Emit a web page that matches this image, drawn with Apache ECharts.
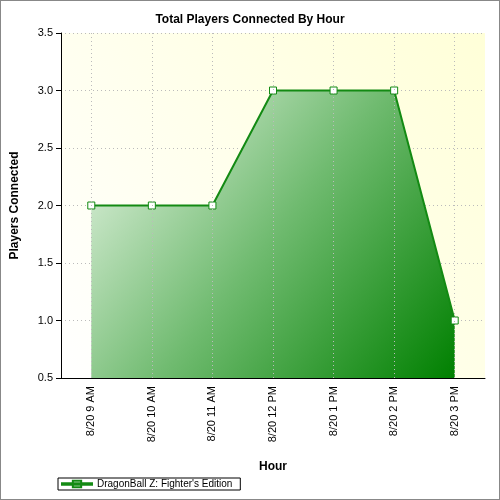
<!DOCTYPE html><html><head><meta charset="utf-8"><script src="https://cdn.jsdelivr.net/npm/echarts@6/dist/echarts.min.js"></script>
<style>body{margin:0}#c{width:498px;height:498px;border:1px solid #888}</style></head><body><div id="c"></div><script>
const categories=['8/20 9 AM','8/20 10 AM','8/20 11 AM','8/20 12 PM','8/20 1 PM','8/20 2 PM','8/20 3 PM'];
const players=[2,2,2,3,3,3,1];
const seriesName="DragonBall Z: Fighter's Edition";
const chart=echarts.init(document.getElementById('c'));
chart.setOption({
 backgroundColor:'#fff',
 title:{text:'Total Players Connected By Hour',left:'center',top:8,textStyle:{fontFamily:'Liberation Sans',fontSize:12,fontWeight:'bold',color:'#000'}},
 grid:{left:57,right:14,top:32,bottom:121,show:true,borderWidth:0,
  backgroundColor:new echarts.graphic.LinearGradient(0,1,1,0,[{offset:0,color:'#ffffff'},{offset:1,color:'#ffffd8'}])},
 legend:{left:57,top:477,itemWidth:30,itemHeight:7,padding:[1,8,1,3],borderColor:'#000',borderWidth:1,
  icon:'path://M0,3 L36,3 L36,5 L0,5 Z M13,0 L23,0 L23,8 L13,8 Z',
  textStyle:{fontFamily:'Liberation Sans',fontSize:10,color:'#000'},data:[seriesName]},
 xAxis:{type:'category',data:categories,boundaryGap:true,name:'Hour',nameLocation:'middle',nameGap:83,
  nameTextStyle:{fontFamily:'Liberation Sans',fontSize:12,fontWeight:'bold',color:'#000'},
  axisLine:{lineStyle:{color:'#000'}},axisTick:{alignWithLabel:true,interval:0,length:5,lineStyle:{color:'#000'}},
  axisLabel:{rotate:90,interval:0,fontFamily:'Liberation Sans',fontSize:11,color:'#000',margin:8},splitLine:{show:false}},
 yAxis:{type:'value',min:0.5,max:3.5,interval:0.5,name:'Players Connected',nameLocation:'middle',nameGap:40,
  nameTextStyle:{fontFamily:'Liberation Sans',fontSize:12,fontWeight:'bold',color:'#000'},
  axisLine:{show:true,lineStyle:{color:'#000'}},axisTick:{show:true,length:5,lineStyle:{color:'#000'}},
  axisLabel:{formatter:v=>v.toFixed(1),fontFamily:'Liberation Sans',fontSize:11,color:'#000'},
  splitLine:{lineStyle:{type:[1,3],color:'#bbb'}}},
 series:[
 {type:'line',data:[],silent:true,z:1,
  markLine:{silent:true,symbol:'none',label:{show:false},lineStyle:{type:[1,3],color:'#bbb',width:1},
   data:categories.map(c=>({xAxis:c}))}},
 {name:seriesName,type:'line',data:players,symbol:'rect',symbolSize:7,z:3,
  itemStyle:{color:'#fff',borderColor:'#138a13',borderWidth:1},
  lineStyle:{color:'#138a13',width:2},
  areaStyle:{origin:'start',opacity:1,color:new echarts.graphic.LinearGradient(0,0,1,1,[{offset:0,color:'#eef8ec'},{offset:0.5,color:'#70bb70'},{offset:1,color:'#008000'}])}}]
});
</script></body></html>
